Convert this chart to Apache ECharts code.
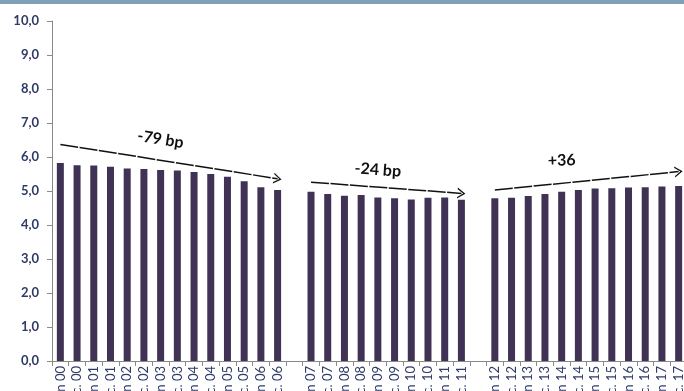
<!DOCTYPE html>
<html>
<head>
<meta charset="utf-8">
<script src="https://cdn.jsdelivr.net/npm/echarts@6/dist/echarts.min.js"></script>
<style>
html,body{margin:0;padding:0;background:#fff;}
#chart{width:684px;height:391px;}
</style>
</head>
<body>
<div id="chart"></div>
<script>
// Categories (half-years, with one blank separator between periods)
const categories = [
  'juin 00','déc. 00','juin 01','déc. 01','juin 02','déc. 02','juin 03','déc. 03',
  'juin 04','déc. 04','juin 05','déc. 05','juin 06','déc. 06',
  ' ',
  'juin 07','déc. 07','juin 08','déc. 08','juin 09','déc. 09','juin 10','déc. 10',
  'juin 11','déc. 11',
  '  ',
  'juin 12','déc. 12','juin 13','déc. 13','juin 14','déc. 14','juin 15','déc. 15',
  'juin 16','déc. 16','juin 17','déc. 17'
];
// Values (%)
const values = [
  5.82, 5.76, 5.75, 5.71, 5.66, 5.65, 5.62, 5.60, 5.56, 5.50, 5.42, 5.29, 5.11, 5.03,
  null,
  4.98, 4.91, 4.86, 4.88, 4.81, 4.79, 4.75, 4.80, 4.81, 4.74,
  null,
  4.79, 4.80, 4.85, 4.91, 4.98, 5.03, 5.07, 5.08, 5.10, 5.11, 5.13, 5.15
];
// Trend arrows: [startIndex, startValue, endIndex, endValue]
const arrows = [
  [0, 6.37, 13.1, 5.36],
  [15, 5.26, 24.1, 4.93],
  [25.5, 5.03, 36.9, 5.57]
];
// Arrow labels: [text, index, value, rotation]
const arrowLabels = [
  ['-79 bp', 5.85, 6.52, -9],
  ['-24 bp', 18.9, 5.62, -4],
  ['+36', 29.9, 5.9, 2]
];

const chart = echarts.init(document.getElementById('chart'));
const chevron = 'path://M0,10 L5,0 L10,10 L8.6,10 L5,2.8 L1.4,10 Z';
chart.setOption({
  animation: false,
  graphic: [{
    type: 'rect', left: 0, top: 0, shape: {width: 684, height: 4},
    style: {fill: '#7fa0b6'}
  }],
  grid: {left: 52, right: -3, top: 21, bottom: 30, containLabel: false, outerBoundsMode: 'none'},
  xAxis: {
    type: 'category',
    data: categories,
    boundaryGap: true,
    axisLine: {lineStyle: {color: '#8a8a8a', width: 1}},
    axisTick: {show: true, interval: 0, length: 5, lineStyle: {color: '#8a8a8a'}},
    axisLabel: {interval: 0, rotate: 90, margin: 5, fontSize: 13, color: '#2f3a66', fontFamily: 'Lato'}
  },
  yAxis: {
    type: 'value',
    min: 0, max: 10, interval: 1,
    axisLine: {show: true, lineStyle: {color: '#8a8a8a', width: 1}},
    axisTick: {show: true, length: 5, lineStyle: {color: '#8a8a8a'}},
    splitLine: {show: false},
    axisLabel: {
      margin: 13, fontSize: 13, color: '#2f3a66', fontFamily: 'Lato', fontWeight: 'bold',
      formatter: v => v.toFixed(1).replace('.', ',')
    }
  },
  series: [{
    type: 'bar',
    data: values,
    barWidth: 7,
    itemStyle: {color: '#3f3254'},
    markLine: {
      silent: true,
      symbol: ['none', chevron],
      symbolSize: [11, 8],
      label: {show: false},
      lineStyle: {color: '#111', width: 1.5, type: [18, 1.5]},
      data: arrows.map(a => [{coord: [a[0], a[1]]}, {coord: [a[2], a[3]]}])
    },
    markPoint: {
      silent: true,
      symbol: 'circle', symbolSize: 0,
      data: arrowLabels.map(l => ({
        coord: [l[1], l[2]],
        label: {
          show: true, formatter: l[0], rotate: l[3], position: 'inside',
          fontSize: 16, fontWeight: 'bold', color: '#111', fontFamily: 'Lato'
        }
      }))
    }
  }]
});
</script>
</body>
</html>
